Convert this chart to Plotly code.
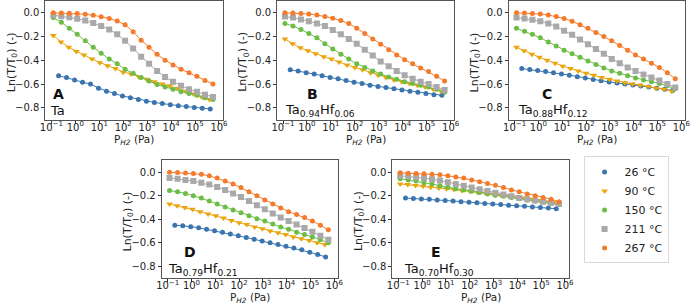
import plotly.graph_objects as go

# ---------------- data ----------------
P_hi = [0.12, 0.26, 0.56, 1.2, 2.6, 5.6, 12, 26, 56, 120, 260, 560, 1200, 2600,
        5600, 12000, 26000, 56000, 120000, 260000, 560000]
P_yel = [0.12, 0.25, 0.53, 1.1, 2.3, 5, 10.5, 22, 47, 100, 210, 450, 950, 2000,
         4300, 9000, 19000, 41000, 87000, 190000, 400000]
P_blue = [0.2, 0.43, 0.93, 2, 4.3, 9.3, 20, 43, 93, 200, 430, 930, 2000, 4300,
          9300, 20000, 43000, 93000, 200000, 430000]

temps = ["26 °C", "90 °C", "150 °C", "211 °C", "267 °C"]
panel_letters = ["A", "B", "C", "D", "E"]
panel_names = ["Ta", "Ta<sub>0.94</sub>Hf<sub>0.06</sub>", "Ta<sub>0.88</sub>Hf<sub>0.12</sub>",
               "Ta<sub>0.79</sub>Hf<sub>0.21</sub>", "Ta<sub>0.70</sub>Hf<sub>0.30</sub>"]

# panel A
A_26 = [-0.53, -0.545, -0.565, -0.585, -0.60, -0.635, -0.66, -0.68, -0.70, -0.715, -0.73,
        -0.745, -0.755, -0.765, -0.775, -0.783, -0.79, -0.797, -0.805, -0.81]
A_90 = [-0.19, -0.245, -0.29, -0.325, -0.355, -0.39, -0.42, -0.445, -0.47, -0.50, -0.515,
        -0.54, -0.56, -0.58, -0.60, -0.615, -0.635, -0.66, -0.685, -0.71, -0.73]
A_150 = [-0.04, -0.08, -0.13, -0.18, -0.235, -0.29, -0.34, -0.39, -0.43, -0.475, -0.51,
         -0.545, -0.575, -0.605, -0.625, -0.645, -0.665, -0.68, -0.695, -0.715, -0.73]
A_211 = [-0.02, -0.028, -0.038, -0.05, -0.065, -0.085, -0.11, -0.14, -0.18, -0.235, -0.30,
         -0.37, -0.43, -0.49, -0.54, -0.58, -0.615, -0.645, -0.665, -0.69, -0.71]
A_267 = [0.0, -0.002, -0.004, -0.006, -0.012, -0.02, -0.033, -0.047, -0.068, -0.10, -0.16,
         -0.23, -0.29, -0.35, -0.40, -0.44, -0.475, -0.505, -0.535, -0.57, -0.60]
# panel B
B_26 = [-0.48, -0.49, -0.505, -0.515, -0.53, -0.545, -0.555, -0.57, -0.585, -0.595, -0.61,
        -0.62, -0.63, -0.64, -0.65, -0.66, -0.67, -0.68, -0.69, -0.695]
B_90 = [-0.22, -0.26, -0.295, -0.32, -0.345, -0.37, -0.39, -0.415, -0.44, -0.46, -0.48,
        -0.505, -0.525, -0.545, -0.565, -0.58, -0.595, -0.61, -0.625, -0.645, -0.66]
B_150 = [-0.09, -0.11, -0.14, -0.175, -0.21, -0.26, -0.305, -0.35, -0.39, -0.43, -0.46,
         -0.49, -0.515, -0.54, -0.56, -0.58, -0.595, -0.61, -0.625, -0.645, -0.67]
B_211 = [-0.03, -0.04, -0.055, -0.07, -0.09, -0.11, -0.145, -0.18, -0.22, -0.26, -0.31,
         -0.36, -0.41, -0.45, -0.49, -0.525, -0.555, -0.58, -0.60, -0.625, -0.65]
B_267 = [0.0, -0.002, -0.005, -0.01, -0.018, -0.03, -0.045, -0.065, -0.09, -0.13, -0.175,
         -0.22, -0.265, -0.31, -0.355, -0.395, -0.43, -0.465, -0.495, -0.535, -0.575]
# panel C
C_26 = [-0.47, -0.478, -0.486, -0.495, -0.505, -0.515, -0.525, -0.538, -0.55, -0.562, -0.572,
        -0.582, -0.592, -0.60, -0.608, -0.617, -0.625, -0.635, -0.645, -0.655]
C_90 = [-0.29, -0.32, -0.35, -0.375, -0.40, -0.425, -0.45, -0.47, -0.49, -0.51, -0.525,
        -0.545, -0.56, -0.575, -0.59, -0.60, -0.61, -0.62, -0.635, -0.645, -0.66]
C_150 = [-0.13, -0.155, -0.18, -0.21, -0.245, -0.28, -0.315, -0.345, -0.375, -0.405, -0.435,
         -0.465, -0.49, -0.51, -0.53, -0.55, -0.565, -0.58, -0.595, -0.615, -0.64]
C_211 = [-0.04, -0.048, -0.058, -0.07, -0.09, -0.115, -0.15, -0.185, -0.225, -0.265, -0.305,
         -0.345, -0.39, -0.425, -0.46, -0.49, -0.52, -0.545, -0.57, -0.60, -0.63]
C_267 = [0.0, -0.002, -0.005, -0.01, -0.018, -0.03, -0.048, -0.07, -0.10, -0.13, -0.165,
         -0.20, -0.235, -0.275, -0.315, -0.355, -0.39, -0.425, -0.46, -0.505, -0.555]
# panel D
D_26 = [-0.45, -0.455, -0.463, -0.472, -0.485, -0.498, -0.51, -0.525, -0.54, -0.555, -0.57,
        -0.585, -0.60, -0.615, -0.63, -0.645, -0.66, -0.68, -0.70, -0.72]
D_90 = [-0.27, -0.285, -0.30, -0.315, -0.335, -0.355, -0.37, -0.39, -0.41, -0.43, -0.445,
        -0.465, -0.48, -0.50, -0.515, -0.53, -0.55, -0.565, -0.58, -0.60, -0.615]
D_150 = [-0.155, -0.165, -0.18, -0.20, -0.22, -0.245, -0.27, -0.295, -0.32, -0.345, -0.37,
         -0.395, -0.415, -0.44, -0.465, -0.485, -0.51, -0.53, -0.55, -0.575, -0.60]
D_211 = [-0.05, -0.055, -0.065, -0.075, -0.09, -0.105, -0.125, -0.15, -0.18, -0.21, -0.245,
         -0.28, -0.315, -0.35, -0.385, -0.415, -0.445, -0.475, -0.505, -0.54, -0.575]
D_267 = [0.0, -0.003, -0.006, -0.01, -0.018, -0.03, -0.05, -0.075, -0.10, -0.13, -0.165,
         -0.20, -0.235, -0.27, -0.305, -0.335, -0.36, -0.385, -0.415, -0.45, -0.49]
# panel E
E_26 = [-0.22, -0.223, -0.227, -0.23, -0.235, -0.24, -0.245, -0.25, -0.255, -0.26, -0.265,
        -0.27, -0.275, -0.28, -0.285, -0.29, -0.295, -0.30, -0.305, -0.31]
E_90 = [-0.10, -0.105, -0.112, -0.12, -0.127, -0.133, -0.14, -0.147, -0.155, -0.162, -0.17,
        -0.177, -0.185, -0.193, -0.20, -0.21, -0.22, -0.23, -0.24, -0.25, -0.26]
E_150 = [-0.055, -0.065, -0.075, -0.09, -0.10, -0.115, -0.128, -0.14, -0.15, -0.162, -0.172,
         -0.185, -0.195, -0.205, -0.215, -0.225, -0.235, -0.245, -0.255, -0.265, -0.275]
E_211 = [-0.03, -0.035, -0.042, -0.05, -0.06, -0.07, -0.085, -0.10, -0.115, -0.13, -0.145,
         -0.16, -0.175, -0.19, -0.205, -0.22, -0.23, -0.24, -0.25, -0.26, -0.27]
E_267 = [-0.005, -0.008, -0.01, -0.013, -0.017, -0.022, -0.03, -0.04, -0.05, -0.065, -0.08,
         -0.095, -0.11, -0.13, -0.15, -0.165, -0.185, -0.20, -0.215, -0.23, -0.25]

panels = [
    [A_26, A_90, A_150, A_211, A_267],
    [B_26, B_90, B_150, B_211, B_267],
    [C_26, C_90, C_150, C_211, C_267],
    [D_26, D_90, D_150, D_211, D_267],
    [E_26, E_90, E_150, E_211, E_267],
]
series_x = [P_blue, P_yel, P_hi, P_hi, P_hi]

x_tickvals = [0.1, 1, 10, 100, 1000, 10000, 100000, 1000000]
x_ticktext = ["10<sup>−1</sup>", "10<sup>0</sup>", "10<sup>1</sup>", "10<sup>2</sup>",
              "10<sup>3</sup>", "10<sup>4</sup>", "10<sup>5</sup>", "10<sup>6</sup>"]
y_tickvals = [0.0, -0.2, -0.4, -0.6, -0.8]
y_ticktext = ["0.0", "−0.2", "−0.4", "−0.6", "−0.8"]

# ---------------- style ----------------
W, H = 696, 305
colors = ["#3b75af", "#eba50c", "#6cbd45", "#a9a9a9", "#f47b2c"]
symbols = ["circle", "triangle-down", "circle", "square", "circle"]
msizes = [5, 6, 5, 6, 5]
FONT = "DejaVu Sans, Arial, sans-serif"

# plot-area boxes in pixels: (left, right, top, bottom)
boxes = [(41, 221, 0, 119), (276, 456, 0, 119), (511, 690, 0, 119),
         (159, 338, 160, 278), (393, 572, 160, 278)]
letter_pos = [(0.072, 0.22), (0.20, 0.22), (0.218, 0.22), (0.162, 0.22), (0.25, 0.22)]
name_pos = [(0.012, 0.075), (0.033, 0.075), (0.04, 0.075), (0.022, 0.075), (0.056, 0.075)]

fig = go.Figure()
annotations = []
layout = {}
for i, (pdata, box) in enumerate(zip(panels, boxes)):
    n = "" if i == 0 else str(i + 1)
    xa, ya = "x" + n, "y" + n
    l, r, t, b = box
    for j, yv in enumerate(pdata):
        fig.add_trace(go.Scatter(
            x=series_x[j][:len(yv)], y=yv, xaxis=xa, yaxis=ya, mode="lines",
            line=dict(color=colors[j], width=1), showlegend=False, hoverinfo="skip"))
        fig.add_trace(go.Scatter(
            x=series_x[j][:len(yv)], y=yv, xaxis=xa, yaxis=ya, mode="markers",
            marker=dict(color=colors[j], symbol=symbols[j], size=msizes[j], line=dict(width=0)),
            name=temps[j], showlegend=(i == 0)))
    axcommon = dict(showline=True, mirror=True, linecolor="#555", linewidth=1,
                    ticks="outside", ticklen=3, tickcolor="#333", showgrid=False,
                    zeroline=False, tickfont=dict(size=10, color="#222", family=FONT))
    layout["xaxis" + n] = dict(axcommon, type="log", range=[-1.25, 6.16],
                               domain=[l / W, r / W], anchor=ya,
                               tickvals=x_tickvals, ticktext=x_ticktext,
                               ticklabelstandoff=-5)
    layout["yaxis" + n] = dict(axcommon, range=[-0.9, 0.1],
                               domain=[1 - b / H, 1 - t / H], anchor=xa,
                               tickvals=y_tickvals, ticktext=y_ticktext)
    # axis titles
    annotations.append(dict(xref="paper", yref="paper", x=((l + r) / 2) / W, y=1 - (b + 20) / H,
                            text="P<sub><i>H2</i></sub> (Pa)", showarrow=False,
                            font=dict(size=10.5, color="#222", family=FONT),
                            xanchor="center", yanchor="middle"))
    annotations.append(dict(xref="paper", yref="paper", x=(l - 34) / W, y=1 - ((t + b) / 2 + 2) / H,
                            text="Ln(T/T<sub>0</sub>) (-)", showarrow=False, textangle=-90,
                            font=dict(size=11, color="#222", family=FONT),
                            xanchor="center", yanchor="middle"))
    # panel letter and composition
    annotations.append(dict(xref=xa + " domain", yref=ya + " domain",
                            x=letter_pos[i][0], y=letter_pos[i][1], text="<b>" + panel_letters[i] + "</b>",
                            showarrow=False, font=dict(size=14, color="#111", family=FONT),
                            xanchor="center", yanchor="middle"))
    annotations.append(dict(xref=xa + " domain", yref=ya + " domain",
                            x=name_pos[i][0], y=name_pos[i][1], text=panel_names[i],
                            showarrow=False, font=dict(size=13, color="#111", family=FONT),
                            xanchor="left", yanchor="middle"))

fig.update_layout(**layout)
fig.update_layout(
    width=W, height=H, margin=dict(l=0, r=0, t=0, b=0),
    paper_bgcolor="white", plot_bgcolor="white",
    annotations=annotations,
    font=dict(family=FONT, color="#222"),
    legend=dict(x=587 / W, y=1 - 156 / H, xanchor="left", yanchor="top",
                bordercolor="#d9d9d9", borderwidth=1, bgcolor="white",
                font=dict(size=11, family=FONT, color="#222"),
                itemwidth=30, tracegroupgap=0),
)
fig.write_html("out.html")
